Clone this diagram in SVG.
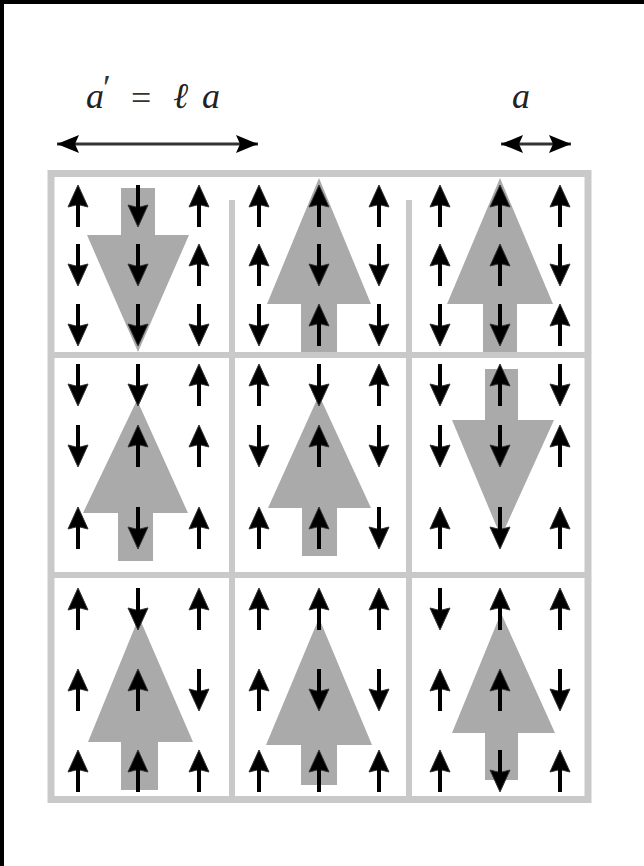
<svg xmlns="http://www.w3.org/2000/svg" width="644" height="866" viewBox="0 0 644 866">
<style>
.frame{fill:none;stroke:#c9c9c9;stroke-width:7}
.div{stroke:#c9c9c9;stroke-width:6}
.big{fill:#aaaaaa}
.math{font-family:"Liberation Serif","DejaVu Serif",serif;font-style:italic;font-size:36px;fill:#222}
.eq{font-family:"Liberation Serif","DejaVu Serif",serif;font-size:36px;fill:#333}
.dim{stroke:#333;stroke-width:3;fill:none}
</style>
<defs>
<g id="su"><path d="M0,-21 L10,1 L0,-1.5 L-10,1 Z" fill="#000" stroke="#333" stroke-width="1" stroke-linejoin="round"/><rect x="-2" y="-6" width="4" height="27" fill="#000"/></g>
<g id="sd"><use href="#su" transform="rotate(180)"/></g>
<marker id="ah" markerUnits="userSpaceOnUse" markerWidth="22" markerHeight="18" viewBox="0 0 22 18" refX="22" refY="9" orient="auto-start-reverse">
<path d="M0,0 L22,9 L0,18 L4,9 Z" fill="#000"/>
</marker>
</defs>
<rect x="0" y="0" width="644" height="866" fill="#fff"/>
<rect x="0" y="0" width="644" height="4" fill="#000"/>
<rect x="0" y="0" width="4" height="866" fill="#000"/>

<g id="labels">
<text class="math" x="86" y="108">a</text>
<text class="eq" x="103" y="100" font-size="28">′</text>
<text class="eq" x="131" y="110">=</text>
<text class="math" x="173" y="108">ℓ</text>
<text class="math" x="202" y="108">a</text>
<text class="math" x="512" y="108">a</text>
</g>

<g id="connectors">
<line class="dim" x1="57" y1="144" x2="258" y2="144" marker-start="url(#ah)" marker-end="url(#ah)"/>
<line class="dim" x1="501" y1="144" x2="571" y2="144" marker-start="url(#ah)" marker-end="url(#ah)"/>
</g>

<g id="grid">
<rect class="frame" x="51" y="173.5" width="537" height="626"/>
<line class="div" x1="232" y1="200" x2="232" y2="800"/>
<line class="div" x1="409" y1="200" x2="409" y2="800"/>
<line class="div" x1="51" y1="355" x2="588" y2="355"/>
<line class="div" x1="51" y1="575" x2="588" y2="575"/>
</g>

<g id="cell-1-1">
<polygon class="big" points="121,188 155,188 155,235 189,235 138,352 87,235 121,235"/>
<use href="#su" x="78" y="206"/><use href="#sd" x="138" y="206"/><use href="#su" x="199" y="206"/>
<use href="#sd" x="78" y="265"/><use href="#sd" x="138" y="265"/><use href="#su" x="199" y="265"/>
<use href="#sd" x="78" y="325"/><use href="#sd" x="138" y="325"/><use href="#sd" x="199" y="325"/>
</g>
<g id="cell-1-2">
<polygon class="big" points="319,178 371,304 337,304 337,352 301,352 301,304 267,304"/>
<use href="#su" x="259" y="206"/><use href="#su" x="319" y="206"/><use href="#su" x="379" y="206"/>
<use href="#su" x="259" y="265"/><use href="#sd" x="319" y="265"/><use href="#sd" x="379" y="265"/>
<use href="#sd" x="259" y="325"/><use href="#su" x="319" y="325"/><use href="#sd" x="379" y="325"/>
</g>
<g id="cell-1-3">
<polygon class="big" points="500,178 553,304 517,304 517,352 483,352 483,304 447,304"/>
<use href="#su" x="440" y="206"/><use href="#su" x="500" y="206"/><use href="#su" x="560" y="206"/>
<use href="#su" x="440" y="265"/><use href="#su" x="500" y="265"/><use href="#sd" x="560" y="265"/>
<use href="#sd" x="440" y="325"/><use href="#sd" x="500" y="325"/><use href="#su" x="560" y="325"/>
</g>

<g id="cell-2-1">
<polygon class="big" points="137,400 188,513 153,513 153,561 118,561 118,513 83,513"/>
<use href="#sd" x="78" y="385"/><use href="#sd" x="138" y="385"/><use href="#su" x="199" y="385"/>
<use href="#sd" x="78" y="446"/><use href="#su" x="138" y="446"/><use href="#su" x="199" y="446"/>
<use href="#su" x="78" y="528"/><use href="#sd" x="138" y="528"/><use href="#su" x="199" y="528"/>
</g>
<g id="cell-2-2">
<polygon class="big" points="319,395 371,508 337,508 337,556 302,556 302,508 268,508"/>
<use href="#su" x="259" y="385"/><use href="#sd" x="319" y="385"/><use href="#su" x="379" y="385"/>
<use href="#sd" x="259" y="446"/><use href="#su" x="319" y="446"/><use href="#sd" x="379" y="446"/>
<use href="#su" x="259" y="528"/><use href="#su" x="319" y="528"/><use href="#sd" x="379" y="528"/>
</g>
<g id="cell-2-3">
<polygon class="big" points="485,369 518,369 518,420 554,420 501,537 452,420 485,420"/>
<use href="#sd" x="440" y="385"/><use href="#su" x="500" y="385"/><use href="#sd" x="560" y="385"/>
<use href="#sd" x="440" y="446"/><use href="#sd" x="500" y="446"/><use href="#su" x="560" y="446"/>
<use href="#su" x="440" y="528"/><use href="#sd" x="500" y="528"/><use href="#su" x="560" y="528"/>
</g>

<g id="cell-3-1">
<polygon class="big" points="139,617 193,742 158,742 158,790 121,790 121,742 88,742"/>
<use href="#su" x="78" y="609"/><use href="#sd" x="138" y="609"/><use href="#su" x="199" y="609"/>
<use href="#su" x="78" y="690"/><use href="#su" x="138" y="690"/><use href="#sd" x="199" y="690"/>
<use href="#su" x="78" y="771"/><use href="#su" x="138" y="771"/><use href="#su" x="199" y="771"/>
</g>
<g id="cell-3-2">
<polygon class="big" points="319,618 372,745 337,745 337,785 301,785 301,745 266,745"/>
<use href="#su" x="259" y="609"/><use href="#su" x="319" y="609"/><use href="#su" x="379" y="609"/>
<use href="#su" x="259" y="690"/><use href="#sd" x="319" y="690"/><use href="#sd" x="379" y="690"/>
<use href="#su" x="259" y="771"/><use href="#su" x="319" y="771"/><use href="#su" x="379" y="771"/>
</g>
<g id="cell-3-3">
<polygon class="big" points="501,613 555,733 518,733 518,780 485,780 485,733 452,733"/>
<use href="#sd" x="440" y="609"/><use href="#su" x="500" y="609"/><use href="#su" x="560" y="609"/>
<use href="#su" x="440" y="690"/><use href="#su" x="500" y="690"/><use href="#sd" x="560" y="690"/>
<use href="#su" x="440" y="771"/><use href="#sd" x="500" y="771"/><use href="#su" x="560" y="771"/>
</g>
</svg>
